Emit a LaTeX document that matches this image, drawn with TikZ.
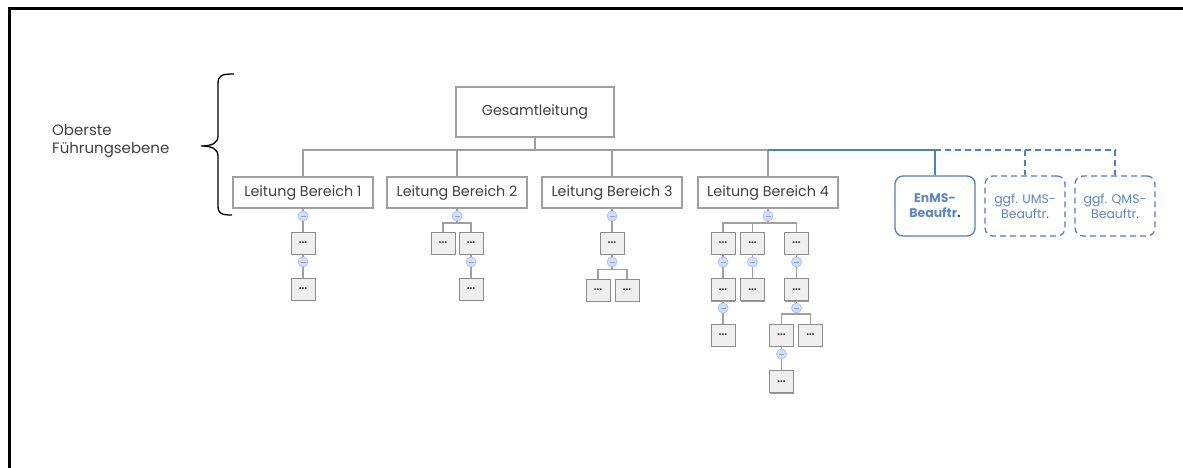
\documentclass[tikz,border=0pt]{standalone}
\usepackage{fontspec}
\setmainfont{Poppins}
\usetikzlibrary{shadows}
\definecolor{txt}{HTML}{404040}
\definecolor{gline}{HTML}{A0A0A0}
\definecolor{dline}{HTML}{8C8C8C}
\definecolor{bl}{HTML}{4F7FC0}
\definecolor{blt}{HTML}{5B86C4}
\definecolor{tfill}{HTML}{CFE0F8}
\definecolor{tdraw}{HTML}{A9C5EE}
\definecolor{dfill}{HTML}{EFEFEF}
\tikzset{
  gl/.style={draw=gline, line width=1.2pt},
  bigbox/.style={draw=gline, line width=1.1pt, fill=white, text=txt, font=\fontsize{14.3}{16}\selectfont, inner sep=0pt},
  lbox/.style={bigbox, minimum width=140pt, minimum height=31pt},
  gbox/.style={bigbox, minimum width=158pt, minimum height=50pt},
  bbox/.style={draw=bl, line width=1.3pt, rounded corners=8pt, fill=white, minimum width=80pt, minimum height=60pt, align=center, text=blt, font=\fontsize{12.5}{15}\selectfont, inner sep=0pt},
  bdash/.style={bbox, dash pattern=on 6pt off 4pt},
  bl1/.style={draw=bl, line width=1.3pt},
  bl2/.style={bl1, dash pattern=on 6pt off 4pt},
  dotbox/.style={draw=dline, line width=1pt, fill=dfill, minimum width=24pt, minimum height=22pt, inner sep=0pt,
    font=\bfseries\fontsize{10}{10}\selectfont, text=txt,
    general shadow={fill=black!40, shadow xshift=0pt, shadow yshift=-1.3pt}},
  tog/.style={circle, draw=tdraw, line width=0.8pt, fill=tfill, minimum size=10pt, inner sep=0pt,
    path picture={\draw[draw=tdraw!80!blue, line width=0.8pt] ([xshift=-2.5pt]path picture bounding box.center) -- ([xshift=2.5pt]path picture bounding box.center);}},
  lab/.style={text=txt, font=\fontsize{15}{18}\selectfont, align=left, anchor=west, inner sep=0pt}
}
\begin{document}
\begin{tikzpicture}[x=1pt,y=-1pt]
\useasboundingbox (0,0) rectangle (1183,468);
% frame
\draw[line width=3pt] (9,468) -- (9,9) -- (1183,9);
% brace
\draw[line width=1.3pt] (234,74) .. controls (222,74) and (218,75) .. (218,84) -- (218,136) .. controls (218,143) and (212,146) .. (201,146)
  .. controls (212,146) and (218,149) .. (218,156) -- (218,206) .. controls (218,214) and (222,215) .. (232,215);
\node[lab] (ober) at (52,141) {Oberste\\Führungsebene};

% main nodes
\node[gbox] (G) at (535,112) {Gesamtleitung};
\node[lbox] (L1) at (303,192.5) {Leitung Bereich 1};
\node[lbox] (L2) at (457,192.5) {Leitung Bereich 2};
\node[lbox] (L3) at (612,192.5) {Leitung Bereich 3};
\node[lbox] (L4) at (768,192.5) {Leitung Bereich 4};
\node[bbox] (E) at (935,206) {\textbf{EnMS-}\\\textbf{Beauftr}{\color{txt}\textbf{.}}};
\node[bdash] (U) at (1025,206) {ggf. UMS-\\Beauftr{\color{txt}.}};
\node[bdash] (Q) at (1115,206) {ggf. QMS-\\Beauftr{\color{txt}.}};
\coordinate (bus) at (0,150);

% top connectors
\draw[gl] (G.south) -- (G.south |- bus);
\draw[gl] (L1.north) |- (L4.north |- bus) -- (L4.north);
\draw[gl] (L2.north) -- (L2.north |- bus);
\draw[gl] (L3.north) -- (L3.north |- bus);
\draw[bl1] (L4.north |- bus) -| (E.north);
\draw[bl2] (E.north |- bus) -| (Q.north);
\draw[bl2] (U.north |- bus) -- (U.north);

% branch 1
\node[tog] (c11) at (303,216) {};
\node[dotbox] (b11) at (303,243) {...};
\node[tog] (c12) at (303,262) {};
\node[dotbox] (b12) at (303,289) {...};
% branch 2
\node[tog] (c21) at (457,216) {};
\coordinate (s21) at (457,223);
\node[dotbox] (b21) at (443,243) {...};
\node[dotbox] (b22) at (471,243) {...};
\node[tog] (c22) at (471,262) {};
\node[dotbox] (b23) at (471,289) {...};
% branch 3
\node[tog] (c31) at (612,216) {};
\node[dotbox] (b31) at (612,243) {...};
\node[tog] (c32) at (612,262) {};
\coordinate (s32) at (612,269.5);
\node[dotbox] (b32) at (598,290) {...};
\node[dotbox] (b33) at (627,290) {...};
% branch 4
\node[tog] (c41) at (768,216) {};
\coordinate (s41) at (768,223);
\node[dotbox] (b41) at (723,243) {...};
\node[dotbox] (b42) at (752.5,243) {...};
\node[dotbox] (b43) at (796.5,243) {...};
\node[tog] (c42a) at (723,262) {};
\node[tog] (c42b) at (752.5,262) {};
\node[tog] (c42c) at (796.5,262) {};
\node[dotbox] (b44) at (723,289.5) {...};
\node[dotbox] (b45) at (752.5,289.5) {...};
\node[dotbox] (b46) at (796.5,289.5) {...};
\node[tog] (c43a) at (723,308) {};
\node[tog] (c43c) at (796.5,308) {};
\coordinate (s43) at (796.5,314);
\node[dotbox] (b47) at (723,335) {...};
\node[dotbox] (b48) at (781.5,335) {...};
\node[dotbox] (b49) at (810.5,335) {...};
\node[tog] (c44) at (781.5,354) {};
\node[dotbox] (b4a) at (781.5,381.5) {...};

% lower connectors
\begin{scope}[gl]
\draw (L1.south) -- (c11.north);
\draw (c11.south) -- (b11.north);
\draw (b11.south) -- (c12.north);
\draw (c12.south) -- (b12.north);
\draw (L2.south) -- (c21.north);
\draw (c21.south) -- (s21);
\draw (b21.north) |- (s21) -| (b22.north);
\draw (b22.south) -- (c22.north);
\draw (c22.south) -- (b23.north);
\draw (L3.south) -- (c31.north);
\draw (c31.south) -- (b31.north);
\draw (b31.south) -- (c32.north);
\draw (c32.south) -- (s32);
\draw (b32.north) |- (s32) -| (b33.north);
\draw (L4.south) -- (c41.north);
\draw (c41.south) -- (s41);
\draw (b41.north) |- (s41) -| (b43.north);
\draw (b42.north) -- (b42.north |- s41);
\draw (b41.south) -- (c42a.north);
\draw (b42.south) -- (c42b.north);
\draw (b43.south) -- (c42c.north);
\draw (c42a.south) -- (b44.north);
\draw (c42b.south) -- (b45.north);
\draw (c42c.south) -- (b46.north);
\draw (b44.south) -- (c43a.north);
\draw (b46.south) -- (c43c.north);
\draw (c43a.south) -- (b47.north);
\draw (c43c.south) -- (s43);
\draw (b48.north) |- (s43) -| (b49.north);
\draw (b48.south) -- (c44.north);
\draw (c44.south) -- (b4a.north);
\end{scope}
\end{tikzpicture}
\end{document}
